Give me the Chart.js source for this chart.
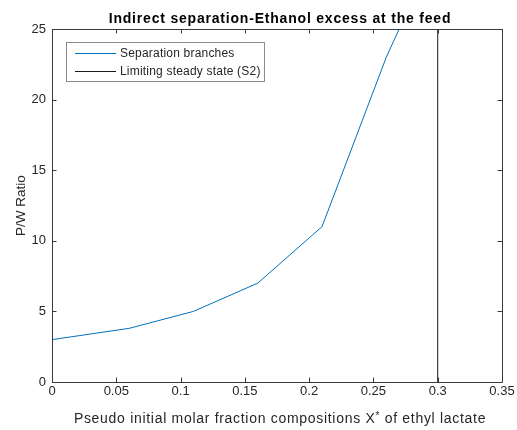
<!DOCTYPE html>
<html>
<head>
<meta charset="utf-8">
<script src="https://cdn.jsdelivr.net/npm/chart.js@4/dist/chart.umd.min.js"></script>
<style>
html,body{margin:0;padding:0;background:#fff;}
canvas{display:block;}
</style>
</head>
<body>
<canvas id="c" width="517" height="430"></canvas>
<script>
const branchX = [0, 0.06, 0.11, 0.16, 0.21, 0.26, 0.27];
const branchY = [3, 3.8, 5, 7, 11, 23, 25];
const limitX = [0.3, 0.3];
const limitY = [0, 25];
const xTicks = [0, 0.05, 0.1, 0.15, 0.2, 0.25, 0.3, 0.35];
const yTicks = [0, 5, 10, 15, 20, 25];
const titleText = 'Indirect separation-Ethanol excess at the feed';
const xLabelParts = ['Pseudo initial molar fraction compositions X', '*', ' of ethyl lactate'];
const yLabel = 'P/W Ratio';
const seriesNames = ['Separation branches', 'Limiting steady state (S2)'];

const FONT = '"Liberation Sans", Arial, sans-serif';
const AXC = '#3a3a3a';
const TXT = '#262626';

const boxPlugin = {
  id: 'boxPlugin',
  afterDraw(chart) {
    const ctx = chart.ctx;
    const a = chart.chartArea;
    const xs = chart.scales.x, ys = chart.scales.y;
    ctx.save();
    ctx.strokeStyle = AXC;
    ctx.lineWidth = 1;
    ctx.beginPath();
    ctx.rect(Math.round(a.left) + 0.5, Math.round(a.top) + 0.5, Math.round(a.right - a.left), Math.round(a.bottom - a.top));
    ctx.stroke();
    const tl = 4.5;
    ctx.beginPath();
    xs.ticks.forEach(t => {
      const px = Math.round(xs.getPixelForValue(t.value)) + 0.5;
      ctx.moveTo(px, a.bottom); ctx.lineTo(px, a.bottom - tl);
      ctx.moveTo(px, a.top); ctx.lineTo(px, a.top + tl);
    });
    ys.ticks.forEach(t => {
      const py = Math.round(ys.getPixelForValue(t.value)) + 0.5;
      ctx.moveTo(a.left, py); ctx.lineTo(a.left + tl, py);
      ctx.moveTo(a.right, py); ctx.lineTo(a.right - tl, py);
    });
    ctx.stroke();

    // title
    ctx.fillStyle = '#000';
    ctx.font = 'bold 14px ' + FONT;
    ctx.letterSpacing = '0.8px';
    ctx.textAlign = 'center';
    ctx.textBaseline = 'alphabetic';
    ctx.fillText(titleText, (a.left + a.right) / 2 + 3, 23);

    // x axis label with superscript
    ctx.fillStyle = TXT;
    ctx.letterSpacing = '0.7px';
    ctx.textAlign = 'left';
    const mainFont = '14px ' + FONT, supFont = '10px ' + FONT;
    ctx.font = mainFont;
    const w0 = ctx.measureText(xLabelParts[0]).width;
    const w2 = ctx.measureText(xLabelParts[2]).width;
    ctx.font = supFont;
    const w1 = ctx.measureText(xLabelParts[1]).width;
    const total = w0 + w1 + w2;
    let sx = (a.left + a.right) / 2 + 3 - total / 2;
    const base = 423;
    ctx.font = mainFont;
    ctx.fillText(xLabelParts[0], sx, base);
    sx += w0;
    ctx.font = supFont;
    ctx.fillText(xLabelParts[1], sx, base - 4);
    sx += w1;
    ctx.font = mainFont;
    ctx.fillText(xLabelParts[2], sx, base);
    ctx.letterSpacing = '0px';

    // legend
    const lx = 66.5, ly = 42.5, lw = 198, lh = 39;
    ctx.fillStyle = '#fff';
    ctx.fillRect(lx, ly, lw, lh);
    ctx.strokeStyle = '#8c8c8c';
    ctx.strokeRect(lx, ly, lw, lh);
    ctx.font = '12px ' + FONT;
    ctx.letterSpacing = '0.2px';
    ctx.textAlign = 'left';
    ctx.textBaseline = 'middle';
    chart.data.datasets.forEach((ds, i) => {
      const yy = 53.5 + i * 18;
      ctx.strokeStyle = ds.borderColor;
      ctx.lineWidth = 1;
      ctx.beginPath();
      ctx.moveTo(75, yy); ctx.lineTo(116, yy);
      ctx.stroke();
      ctx.fillStyle = TXT;
      ctx.fillText(ds.label, 120, yy);
    });
    ctx.letterSpacing = '0px';
    ctx.restore();
  }
};

new Chart(document.getElementById('c'), {
  type: 'scatter',
  data: {
    datasets: [
      {
        label: seriesNames[0],
        data: branchX.map((x, i) => ({x: x, y: branchY[i]})),
        showLine: true,
        borderColor: '#0072BD',
        borderWidth: 1,
        pointRadius: 0,
        tension: 0
      },
      {
        label: seriesNames[1],
        data: limitX.map((x, i) => ({x: x, y: limitY[i]})),
        showLine: true,
        borderColor: '#1a1a1a',
        borderWidth: 1,
        pointRadius: 0
      }
    ]
  },
  options: {
    responsive: false,
    animation: false,
    devicePixelRatio: 1,
    layout: {padding: {top: 29, right: 15, left: 0, bottom: 0}},
    plugins: {legend: {display: false}, tooltip: {enabled: false}, title: {display: false}},
    scales: {
      x: {
        type: 'linear',
        min: 0, max: 0.35,
        afterBuildTicks: s => { s.ticks = xTicks.map(v => ({value: v})); },
        afterFit: s => { s.height = 48; },
        grid: {display: false, drawTicks: false},
        border: {display: false},
        ticks: {
          padding: 2,
          color: TXT,
          font: {family: FONT, size: 13},
          maxRotation: 0,
          autoSkip: false,
          callback: v => String(Math.round(v * 100) / 100)
        },
        title: {display: false}
      },
      y: {
        type: 'linear',
        min: 0, max: 25,
        afterBuildTicks: s => { s.ticks = yTicks.map(v => ({value: v})); },
        afterFit: s => { s.width = 52; },
        grid: {display: false, drawTicks: false},
        border: {display: false},
        ticks: {
          padding: 6,
          color: TXT,
          font: {family: FONT, size: 13},
          autoSkip: false,
          callback: v => String(v)
        },
        title: {
          display: true,
          text: yLabel,
          color: TXT,
          font: {family: FONT, size: 13.5},
          padding: {top: 13, bottom: 0}
        }
      }
    }
  },
  plugins: [boxPlugin]
});
</script>
</body>
</html>
